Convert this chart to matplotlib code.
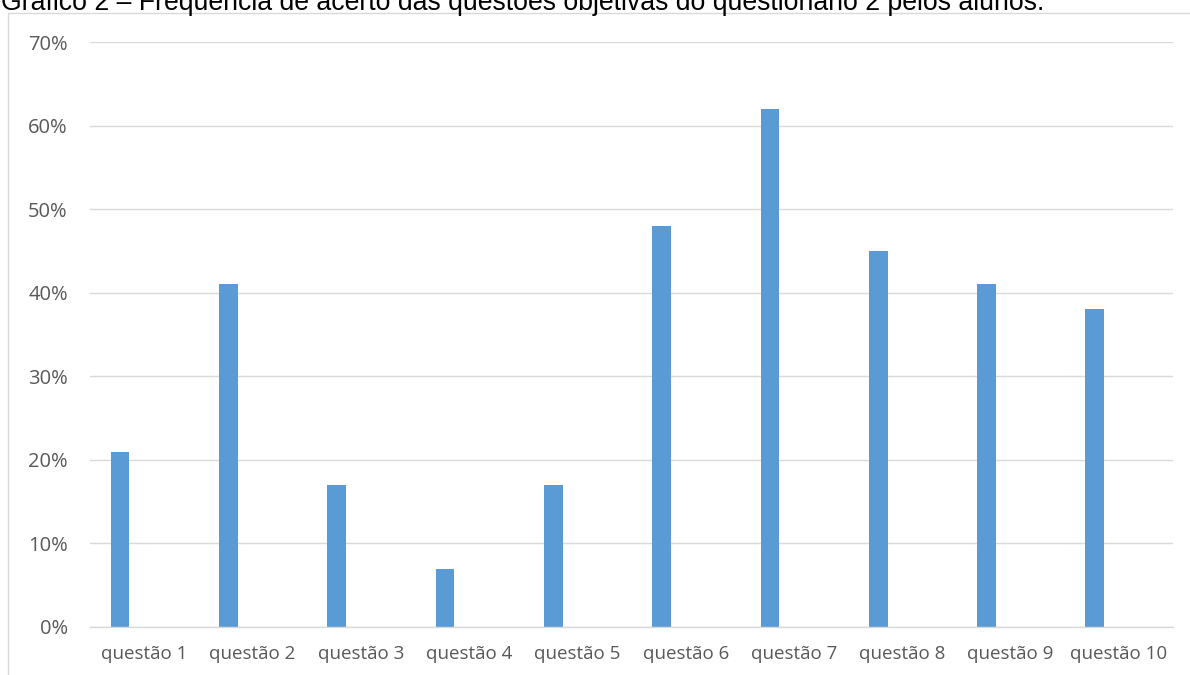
import matplotlib
matplotlib.use("Agg")
import matplotlib.pyplot as plt
from matplotlib.patches import Rectangle
from matplotlib.ticker import FuncFormatter

# Data
categories = ["questão 1", "questão 2", "questão 3", "questão 4", "questão 5",
              "questão 6", "questão 7", "questão 8", "questão 9", "questão 10"]
acertos = [0.21, 0.41, 0.17, 0.07, 0.17, 0.48, 0.62, 0.45, 0.41, 0.38]
y_ticks = [0.0, 0.1, 0.2, 0.3, 0.4, 0.5, 0.6, 0.7]
title = "Gráfico 2 – Frequência de acerto das questões objetivas do questionário 2 pelos alunos."

W, H = 1190, 675
fig = plt.figure(figsize=(W / 100, H / 100), dpi=100)
fig.patch.set_facecolor("white")

# Outer chart frame
fig.patches.append(Rectangle((8 / W, -0.05), 1.1, 1 - 12.5 / H + 0.05,
                             transform=fig.transFigure, fill=False,
                             edgecolor="#d9d9d9", linewidth=1.0, zorder=0))

ax = fig.add_axes([90 / W, (H - 627) / H, (1173 - 90) / W, (627 - 42) / H])
ax.set_facecolor("none")

x = list(range(len(categories)))
bar_w = 0.172
offset = -0.222
ax.bar([i + offset for i in x], acertos, width=bar_w, color="#5B9BD5", zorder=3)

ax.set_xlim(-0.5, len(categories) - 0.5)
ax.set_ylim(0, 0.70)
ax.set_yticks(y_ticks)
ax.yaxis.set_major_formatter(FuncFormatter(lambda v, p: f"{v * 100:.0f}%"))
ax.set_xticks(x)
ax.set_xticklabels(categories)

fam = ["Open Sans", "DejaVu Sans"]
for lab in ax.get_xticklabels():
    lab.set_fontfamily(fam)
    lab.set_fontsize(13.5)
    lab.set_color("#595959")
for lab in ax.get_yticklabels():
    lab.set_fontfamily(fam)
    lab.set_fontsize(14.5)
    lab.set_color("#595959")

ax.tick_params(axis="both", length=0)
ax.tick_params(axis="y", pad=16)
ax.tick_params(axis="x", pad=13)

ax.yaxis.grid(True, color="#d9d9d9", linewidth=1.0, zorder=0)
ax.set_axisbelow(True)
for side in ["top", "right", "left"]:
    ax.spines[side].set_visible(False)
ax.spines["bottom"].set_color("#d9d9d9")
ax.spines["bottom"].set_linewidth(1.0)
ax.spines["bottom"].set_zorder(4)

fig.text(1 / W, 1 - 10 / H, title, ha="left", va="baseline",
         fontfamily=["Liberation Sans", "DejaVu Sans"], fontsize=19.2, color="black")

fig.savefig("out.png", dpi=100, facecolor="white")
